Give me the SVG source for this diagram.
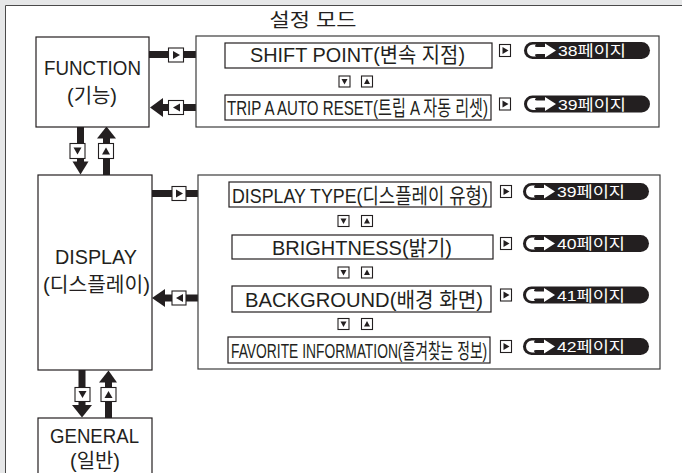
<svg xmlns="http://www.w3.org/2000/svg" width="682" height="473" viewBox="0 0 682 473">
<style>
text{font-family:"Liberation Sans","Noto Sans CJK KR",sans-serif;fill:#231f20}
.box{fill:#fff;stroke:#231f20;stroke-width:1.2}
.panel{fill:#fff;stroke:#3c3c3c;stroke-width:1.2}
.blk{fill:#231f20}
.sq{fill:#fff;stroke:#231f20;stroke-width:1.1}
.item{font-size:21px}
.node{font-size:20px;text-anchor:middle}
.pill{fill:#231f20}
.pt{font-size:15px;fill:#fff}
</style>
<defs>
<g id="pillArrow">
<rect x="0" y="-8.5" width="126" height="17" rx="8.5" class="pill"/>
<path d="M9,-6 A6,6 0 0 0 9,6 L12,6 Q9.5,3.5 13,3.5 L21,3.5 L21,7 L32,0 L21,-7 L21,-3.5 L13,-3.5 Q9.5,-3.5 12,-6 Z" fill="#fff"/>
</g>
<g id="sqR"><rect x="0" y="0" width="11" height="12" class="sq"/><path d="M3,2.5 L9,6 L3,9.5 Z" class="blk"/></g>
<g id="sqD"><rect x="0" y="0" width="11" height="11" class="sq"/><path d="M2.5,3 L8.5,3 L5.5,8.5 Z" class="blk"/></g>
<g id="sqU"><rect x="0" y="0" width="11" height="11" class="sq"/><path d="M2.5,8 L8.5,8 L5.5,2.5 Z" class="blk"/></g>
</defs>
<rect x="0" y="0" width="682" height="473" fill="#e6e7e8"/>
<rect x="5" y="5" width="677" height="468" fill="#fff"/>
<path d="M5.5,473 V5.5 H682" fill="none" stroke="#4a4a4a" stroke-width="1"/>

<text x="313" y="27" font-size="19" text-anchor="middle" textLength="87" lengthAdjust="spacingAndGlyphs">설정 모드</text>

<g id="connectors">
  <rect x="149" y="51" width="63" height="7" class="blk"/>
  <path d="M210,46 L225,54.5 L210,63 Z" class="blk"/>
  <rect x="168.5" y="48" width="15" height="14" class="sq"/>
  <path d="M173,51 L180,55 L173,59 Z" class="blk"/>
  <rect x="162" y="104" width="34" height="7" class="blk"/>
  <path d="M150,107.5 L163,98 L163,117 Z" class="blk"/>
  <rect x="168.5" y="100.5" width="15" height="14" class="sq"/>
  <path d="M180,103.5 L173,107.5 L180,111.5 Z" class="blk"/>
  <rect x="77" y="127" width="7" height="36" class="blk"/>
  <path d="M72.5,161.5 L88.5,161.5 L80.5,174.5 Z" class="blk"/>
  <rect x="70" y="143.5" width="15" height="15" class="sq"/>
  <path d="M73.5,147.5 L81.5,147.5 L77.5,154.5 Z" class="blk"/>
  <rect x="103" y="137" width="7" height="38" class="blk"/>
  <path d="M97,138.5 L116,138.5 L106.5,126.5 Z" class="blk"/>
  <rect x="98.5" y="143.5" width="15" height="15" class="sq"/>
  <path d="M102,154.5 L110,154.5 L106,147.5 Z" class="blk"/>
  <rect x="152" y="190" width="63" height="7" class="blk"/>
  <path d="M214,185 L229,193.5 L214,202 Z" class="blk"/>
  <rect x="172" y="186.5" width="14" height="14" class="sq"/>
  <path d="M176,189.5 L183,193.5 L176,197.5 Z" class="blk"/>
  <rect x="165" y="294.5" width="33" height="7" class="blk"/>
  <path d="M152,298 L165,289 L165,307 Z" class="blk"/>
  <rect x="172" y="291" width="14" height="14" class="sq"/>
  <path d="M183,294 L176,298 L183,302 Z" class="blk"/>
  <rect x="78.5" y="370" width="7" height="37" class="blk"/>
  <path d="M72,405 L92,405 L82,417.5 Z" class="blk"/>
  <rect x="75" y="387.5" width="15" height="14" class="sq"/>
  <path d="M78.5,391 L86.5,391 L82.5,398 Z" class="blk"/>
  <rect x="105" y="381" width="7" height="37" class="blk"/>
  <path d="M99,382.5 L117,382.5 L108.5,370.5 Z" class="blk"/>
  <rect x="101" y="387.5" width="15" height="14" class="sq"/>
  <path d="M104.5,398 L112.5,398 L108.5,391 Z" class="blk"/>
</g>

<g id="function">
  <rect x="36" y="37" width="113" height="90" class="box"/>
  <text x="92.5" y="75" class="node" textLength="97" lengthAdjust="spacingAndGlyphs">FUNCTION</text>
  <text x="92" y="103" class="node" textLength="50" lengthAdjust="spacingAndGlyphs">(기능)</text>
</g>

<g id="function-panel">
  <rect x="196" y="36" width="463" height="91" class="panel"/>
</g>
<g id="shift-point">
  <rect x="225" y="43" width="267" height="25" class="box"/>
  <text x="250" y="62" class="item" textLength="215" lengthAdjust="spacingAndGlyphs">SHIFT POINT(변속 지점)</text>
</g>
<use href="#sqD" x="339" y="76"/>
<use href="#sqU" x="361.5" y="76"/>
<g id="trip-reset">
  <rect x="225" y="95" width="266" height="25" class="box"/>
  <text transform="translate(227,115) scale(0.75,1)" x="0" y="0" class="item" textLength="348" lengthAdjust="spacingAndGlyphs">TRIP A AUTO RESET(트립 A 자동 리셋)</text>
</g>
<g id="page38">
  <use href="#sqR" x="499.5" y="44.5"/>
  <use href="#pillArrow" x="524" y="50.5"/>
  <text x="558" y="56" class="pt" textLength="68" lengthAdjust="spacingAndGlyphs">38페이지</text>
</g>
<g id="page39a">
  <use href="#sqR" x="499.5" y="98"/>
  <use href="#pillArrow" x="524" y="104"/>
  <text x="558" y="109.5" class="pt" textLength="68" lengthAdjust="spacingAndGlyphs">39페이지</text>
</g>

<g id="display">
  <rect x="38" y="175" width="114" height="195" class="box"/>
  <text x="96" y="264" class="node" textLength="82" lengthAdjust="spacingAndGlyphs">DISPLAY</text>
  <text x="96.5" y="292" class="node" textLength="107" lengthAdjust="spacingAndGlyphs">(디스플레이)</text>
</g>

<g id="display-panel">
  <rect x="198" y="175" width="462" height="194" class="panel"/>
</g>
<g id="display-type">
  <rect x="229" y="182" width="262" height="25" class="box"/>
  <text transform="translate(232,203) scale(0.85,1)" x="0" y="0" class="item" textLength="301" lengthAdjust="spacingAndGlyphs">DISPLAY TYPE(디스플레이 유형)</text>
</g>
<use href="#sqD" x="338" y="215.5"/>
<use href="#sqU" x="361.5" y="215.5"/>
<g id="brightness">
  <rect x="232" y="235" width="261" height="24" class="box"/>
  <text x="272" y="255" class="item" textLength="180" lengthAdjust="spacingAndGlyphs">BRIGHTNESS(밝기)</text>
</g>
<use href="#sqD" x="338" y="267"/>
<use href="#sqU" x="361.5" y="267"/>
<g id="background">
  <rect x="232" y="286" width="259" height="26" class="box"/>
  <text x="245" y="307" class="item" textLength="238" lengthAdjust="spacingAndGlyphs">BACKGROUND(배경 화면)</text>
</g>
<use href="#sqD" x="338" y="318.5"/>
<use href="#sqU" x="361.5" y="318.5"/>
<g id="favorite">
  <rect x="228" y="337" width="262" height="26" class="box"/>
  <text transform="translate(231,358) scale(0.7,1)" x="0" y="0" class="item" textLength="366" lengthAdjust="spacingAndGlyphs">FAVORITE INFORMATION(즐겨찾는 정보)</text>
</g>
<g id="page39b">
  <use href="#sqR" x="500.5" y="185.5"/>
  <use href="#pillArrow" x="523" y="191.5"/>
  <text x="557" y="197" class="pt" textLength="68" lengthAdjust="spacingAndGlyphs">39페이지</text>
</g>
<g id="page40">
  <use href="#sqR" x="500.5" y="237.5"/>
  <use href="#pillArrow" x="523" y="243.5"/>
  <text x="557" y="249" class="pt" textLength="68" lengthAdjust="spacingAndGlyphs">40페이지</text>
</g>
<g id="page41">
  <use href="#sqR" x="500.5" y="289"/>
  <use href="#pillArrow" x="523" y="295"/>
  <text x="557" y="300.5" class="pt" textLength="68" lengthAdjust="spacingAndGlyphs">41페이지</text>
</g>
<g id="page42">
  <use href="#sqR" x="500.5" y="340.5"/>
  <use href="#pillArrow" x="523" y="346.5"/>
  <text x="557" y="352" class="pt" textLength="68" lengthAdjust="spacingAndGlyphs">42페이지</text>
</g>

<g id="general">
  <rect x="38" y="418" width="114" height="60" class="box"/>
  <text x="94.5" y="443" class="node" textLength="89" lengthAdjust="spacingAndGlyphs">GENERAL</text>
  <text x="95" y="468" class="node" textLength="50" lengthAdjust="spacingAndGlyphs">(일반)</text>
</g>
</svg>
